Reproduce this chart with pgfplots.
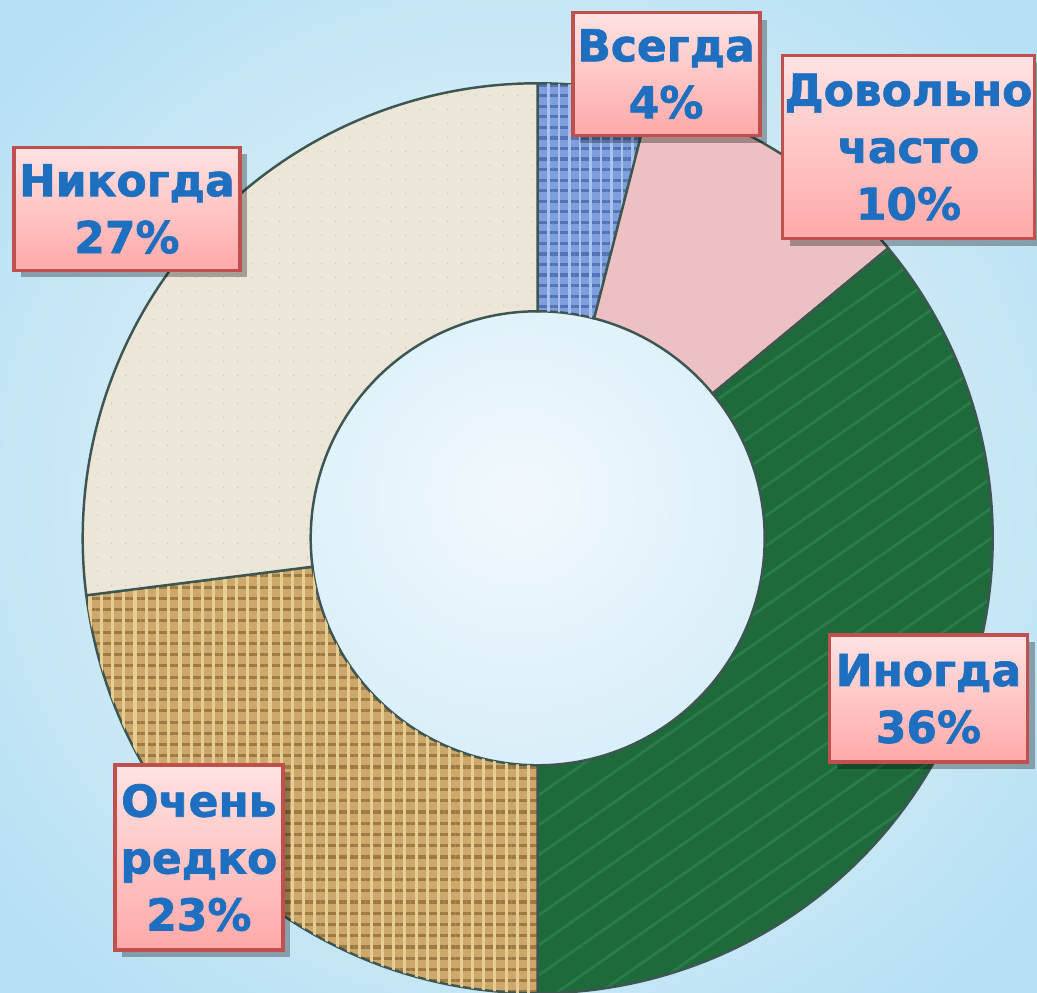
\documentclass[border=0pt]{standalone}
\usepackage{fontspec}
\setmainfont{DejaVu Sans}
\newfontfamily\lblfont[FakeBold=1.6]{DejaVu Sans Bold}
\usepackage{pgfplots}
\pgfplotsset{compat=1.18}
\usepackage{pgfplotstable}
\usetikzlibrary{calc,shadows,patterns,patterns.meta}

\definecolor{bgIn}{HTML}{F2F9FD}
\definecolor{bgOut}{HTML}{B6E0F3}
\definecolor{cBlue}{HTML}{7E9EDC}
\definecolor{cBlueD}{HTML}{5572B8}
\definecolor{cBlueL}{HTML}{A9C2EE}
\definecolor{cPink}{HTML}{EDC1C4}
\definecolor{cGreen}{HTML}{1E6A3A}
\definecolor{cGreenL}{HTML}{2A7C48}
\definecolor{cTan}{HTML}{CDA86A}
\definecolor{cTanD}{HTML}{9C7A44}
\definecolor{cTanL}{HTML}{E6CD94}
\definecolor{cCream}{HTML}{ECE6D8}
\definecolor{cCreamD}{HTML}{D2C9B5}
\definecolor{edge}{HTML}{3E5652}
\definecolor{cBorder}{HTML}{C0504D}
\definecolor{cPinkT}{HTML}{FFE3E3}
\definecolor{cPinkB}{HTML}{FFA9A9}
\definecolor{cText}{HTML}{1F6FC0}

% share of answers, clockwise from the top
\pgfplotstableread{
name value
Vsegda 4
DovolnoChasto 10
Inogda 36
OchenRedko 23
Nikogda 27
}\donut

\tikzset{
  slice0/.style={preaction={fill=cBlue}, pattern={Lines[angle=0,distance=3pt,line width=0.9pt]}, pattern color=cBlueD,
                 postaction={pattern={Lines[angle=90,distance=3pt,line width=0.7pt]}, pattern color=cBlueL}},
  slice1/.style={fill=cPink},
  slice2/.style={preaction={fill=cGreen}, pattern={Lines[angle=35,distance=7pt,line width=0.8pt]}, pattern color=cGreenL},
  slice3/.style={preaction={fill=cTan}, pattern={Lines[angle=0,distance=3.2pt,line width=0.9pt]}, pattern color=cTanD,
                 postaction={pattern={Lines[angle=90,distance=3.2pt,line width=0.9pt]}, pattern color=cTanL}},
  slice4/.style={preaction={fill=cCream}, pattern={Dots[distance=4pt,radius=0.25pt]}, pattern color=cCreamD},
  lbl/.style={draw=cBorder, line width=1.1pt, top color=cPinkT, bottom color=cPinkB,
              drop shadow={shadow xshift=2pt, shadow yshift=-2pt, opacity=0.3, fill=black},
              align=center, text=cText, font=\fontsize{12.5}{16.2}\selectfont\lblfont, inner sep=0pt},
}

\begin{document}
\begin{tikzpicture}
\path[use as bounding box] (0,0) rectangle (10.37,9.92);
\clip (0,0) rectangle (10.37,9.92);
\begin{axis}[x=0.01cm, y=0.01cm, xmin=0, xmax=1037, ymin=0, ymax=992,
  hide axis, clip=false, anchor=origin, at={(0,0)}]
\pgfplotsextra{
  \fill[inner color=bgIn, outer color=bgOut] (axis cs:-150,-150) rectangle (axis cs:1187,1142);
  \coordinate (C) at (axis cs:538,454);
  \gdef\cumval{0}
  \foreach \i in {0,...,4}{
    \pgfplotstablegetelem{\i}{value}\of\donut
    \let\v\pgfplotsretval
    \pgfmathsetmacro\a{90-3.6*\cumval}
    \pgfmathsetmacro\b{90-3.6*(\cumval+\v)}
    \path[slice\i, draw=edge, line width=0.7pt]
      ($(C)+(\a:4.55cm)$) arc[start angle=\a, end angle=\b, radius=4.55cm]
      -- ($(C)+(\b:2.27cm)$) arc[start angle=\b, end angle=\a, radius=2.27cm] -- cycle;
    \pgfmathsetmacro\nc{\cumval+\v}
    \xdef\cumval{\nc}
  }
  \node[lbl, minimum width=1.87cm, minimum height=1.23cm] at (axis cs:666.5,918.5) {Всегда\\4\%};
  \node[lbl, minimum width=2.52cm, minimum height=1.83cm] at (axis cs:909,845.5) {Довольно\\часто\\10\%};
  \node[lbl, minimum width=1.98cm, minimum height=1.27cm] at (axis cs:929,293.5) {Иногда\\36\%};
  \node[lbl, minimum width=1.68cm, minimum height=1.85cm] at (axis cs:199,134.5) {Очень\\редко\\23\%};
  \node[lbl, minimum width=2.26cm, minimum height=1.23cm] at (axis cs:127,783.5) {Никогда\\27\%};
}
\end{axis}
\end{tikzpicture}
\end{document}
